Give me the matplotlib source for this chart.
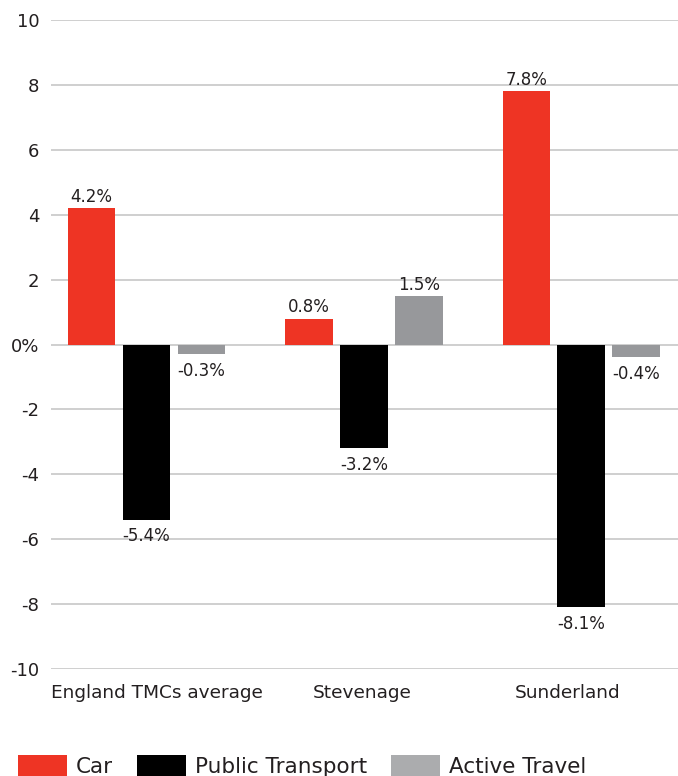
import matplotlib
matplotlib.use("Agg")
import matplotlib.pyplot as plt
from matplotlib.patches import Patch

plt.rcParams['font.family'] = ['DejaVu Sans']

categories = ["England TMCs average", "Stevenage", "Sunderland"]
series = ["Car", "Public Transport", "Active Travel"]
car = [4.2, 0.8, 7.8]
public_transport = [-5.4, -3.2, -8.1]
active_travel = [-0.3, 1.5, -0.4]
yticks = [-10, -8, -6, -4, -2, 0, 2, 4, 6, 8, 10]
ytick_labels = ["-10", "-8", "-6", "-4", "-2", "0%", "2", "4", "6", "8", "10"]

colors = ["#EE3424", "#000000", "#97989B"]
legend_colors = ["#EE3424", "#000000", "#ABACAE"]

fig = plt.figure(figsize=(6.78, 7.76), dpi=100)
ax = fig.add_axes([0.0752, 0.1379, 0.9248, 0.8363])

group_x = [0, 1, 2]
offset = 0.253
width = 0.219
text_color = "#231F20"

for i, (vals, col) in enumerate(zip([car, public_transport, active_travel], colors)):
    xs = [g + (i - 1) * offset for g in group_x]
    bars = ax.bar(xs, vals, width=width, color=col, zorder=3)
    for b, v in zip(bars, vals):
        cx = b.get_x() + b.get_width() / 2
        if v >= 0:
            ax.annotate(f"{v:.1f}%", (cx, v), xytext=(0, 1.5), textcoords="offset points",
                        ha="center", va="bottom", fontsize=12, color=text_color)
        else:
            ax.annotate(f"{v:.1f}%", (cx, v), xytext=(0, -5.5), textcoords="offset points",
                        ha="center", va="top", fontsize=12, color=text_color)

ax.set_ylim(-10, 10)
ax.set_xlim(-0.44, 2.445)
ax.set_yticks(yticks)
ax.set_yticklabels(ytick_labels, fontsize=13, color=text_color)
ax.yaxis.grid(True, color="#CCCCCC", linewidth=1.3, zorder=0)
ax.tick_params(axis="y", length=0, pad=8.5)

# category labels sit under each cluster
label_x = [0.047, 0.99, 1.935]
ax.set_xticks(label_x)
ax.set_xticklabels(categories, fontsize=13.3, color=text_color)
ax.tick_params(axis="x", length=0, pad=10.5)

for s in ax.spines.values():
    s.set_visible(False)

handles = [Patch(facecolor=c, edgecolor="none") for c in legend_colors]
fig.legend(handles, series, loc="center left", bbox_to_anchor=(0.0265, 0.0129),
           ncol=3, frameon=False, fontsize=15.5, handlelength=2.28, handleheight=1.15,
           handletextpad=0.42, columnspacing=1.1, borderpad=0, borderaxespad=0,
           labelcolor=text_color)

fig.savefig("out.png", dpi=100)
